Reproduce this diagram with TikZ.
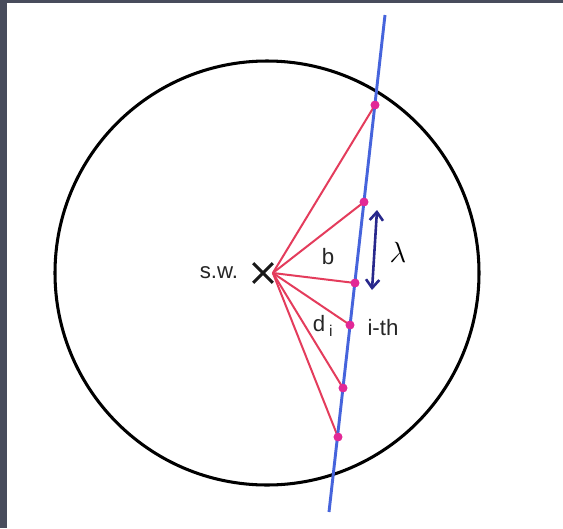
\documentclass[tikz,border=0pt]{standalone}
\usepackage{fontspec}
\setmainfont{Liberation Sans}
\usepackage{tikz}
\usetikzlibrary{arrows.meta, shapes.misc, positioning}

\definecolor{frameback}{RGB}{72,76,92}
\definecolor{lineblue}{RGB}{70,100,220}
\definecolor{rayred}{RGB}{228,60,92}
\definecolor{dotpink}{RGB}{226,40,150}
\definecolor{arrownavy}{RGB}{40,40,140}

\begin{document}
\begin{tikzpicture}[
    x=0.03cm, y=-0.03cm,
    ring/.style={draw=black, line width=2.6pt},
    track/.style={draw=lineblue, line width=2.5pt},
    ray/.style={draw=rayred, line width=1.7pt},
    dot/.style={circle, fill=dotpink, inner sep=0pt, minimum size=0.26cm},
    source/.style={cross out, draw=black!90, line width=2.6pt, inner sep=0pt, minimum width=0.5cm, minimum height=0.5cm},
    label/.style={font=\fontsize{19}{21}\selectfont, text=black!85},
    wave/.style={{Straight Barb[length=2.5mm, width=4mm]}-{Straight Barb[length=2.5mm, width=4mm]}, arrownavy, line width=2.2pt}
]

% Page and dark frame
\useasboundingbox (0,0) rectangle (563,528);
\fill[frameback] (0,0) rectangle (563,528);
\fill[white] (7,3) rectangle (563,528);

% Circle around the shower
\draw[ring] (267,273) circle[radius=212*0.03cm];

% Source and its label
\node[source] (sw) at (263,273) {};
\node[label] (swlabel) at (219,273) {s.w.};

% Track (ends)
\coordinate (top) at (385,15);
\coordinate (bottom) at (329,512);

% Points on the track
\node[dot] (p1) at (375,105) {};
\node[dot] (p2) at (364,202) {};
\node[dot] (p3) at (355,283) {};
\node[dot] (p4) at (350,325) {};
\node[dot] (p5) at (343,388) {};
\node[dot] (p6) at (338,437) {};

% Rays from the source
\draw[ray] (sw.east) -- (p1.center);
\draw[ray] (sw.east) -- (p2.center);
\draw[ray] (sw.east) -- (p3.center);
\draw[ray] (sw.east) -- (p4.center);
\draw[ray] (sw.east) -- (p5.center);
\draw[ray] (sw.east) -- (p6.center);

% Track line over the rays
\draw[track] (top) -- (bottom);
\foreach \p in {p1,p2,p3,p4,p5,p6} \node[dot] at (\p) {};

% Spacing arrow
\coordinate (lamtop) at (377,210);
\coordinate (lambot) at (372,290);
\draw[wave] (lamtop) -- (lambot);

% Labels
\node[font=\fontsize{25}{27}\selectfont] (lambda) at (398,252) {$\lambda$};
\node[label] (blabel) at (328,257) {b};
\node[label] (dlabel) at (323,326) {d\,\textsubscript{i}};
\node[label] (ith) at (383,328) {i-th};

\end{tikzpicture}
\end{document}
